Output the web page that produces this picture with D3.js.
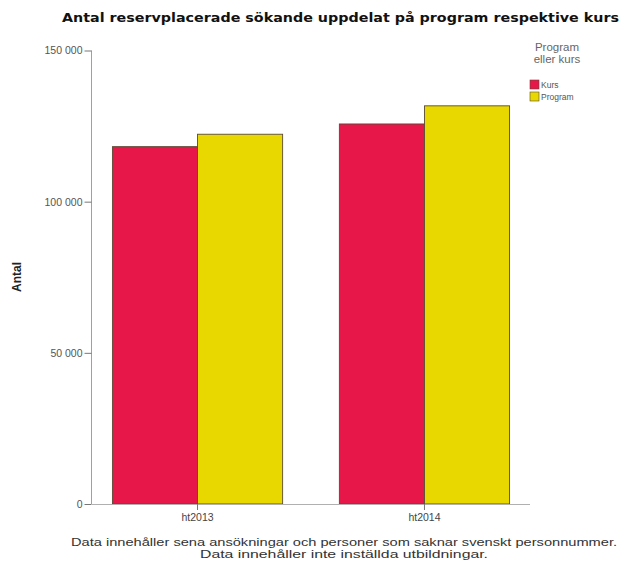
<!DOCTYPE html>
<html><head><meta charset="utf-8">
<script src="https://cdn.jsdelivr.net/npm/d3@7"></script>
<style>body{margin:0;background:#fff;} svg{display:block;}</style>
</head><body>
<svg id="c" width="626" height="565"></svg>
<script>
const categories = ["ht2013", "ht2014"];
const seriesNames = ["Kurs", "Program"];
const kursValues = [118200, 125700];
const programValues = [122300, 131700];
const yTicks = [0, 50000, 100000, 150000];
const colors = ["#e8174a", "#e8d800"];

const svg = d3.select("#c");
const x0 = d3.scaleBand().domain(categories).range([92, 530]).paddingInner(0.25).paddingOuter(0.09);
const x1 = d3.scaleBand().domain(seriesNames).range([0, x0.bandwidth()]);
const y = d3.scaleLinear().domain([0, 150000]).range([504, 50.5]);
const fmt = v => d3.format(",")(v).replace(/,/g, " ");

svg.append("text").attr("x", 62).attr("y", 22)
  .attr("font-family", "DejaVu Sans").attr("font-weight", "bold").attr("font-size", 13)
  .attr("textLength", 557).attr("lengthAdjust", "spacingAndGlyphs")
  .attr("fill", "#111").text("Antal reservplacerade sökande uppdelat på program respektive kurs");

const data = categories.map((c, i) => ({c, vals: [kursValues[i], programValues[i]]}));
const g = svg.append("g");
data.forEach(d => {
  d.vals.forEach((v, j) => {
    g.append("rect").attr("x", x0(d.c) + x1(seriesNames[j])).attr("y", y(v))
      .attr("width", x1.bandwidth()).attr("height", y(0) - y(v))
      .attr("fill", colors[j]).attr("stroke", "#5a4a36").attr("stroke-width", 0.9);
  });
});

const yAxis = svg.append("g").attr("transform", "translate(91.5,0)")
  .call(d3.axisLeft(y).tickValues(yTicks).tickFormat(fmt).tickSize(7).tickPadding(2));
yAxis.select(".domain").attr("stroke", "#a0a0a0").attr("d", "M0,504V50.5");
yAxis.selectAll(".tick line").attr("stroke", "#777");
yAxis.selectAll("text").attr("font-family", "Liberation Sans, Arial").attr("font-size", 10.5).attr("fill", "#555");

const xAxis = svg.append("g").attr("transform", "translate(0,504)")
  .call(d3.axisBottom(x0).tickSize(6).tickPadding(4));
xAxis.select(".domain").attr("stroke", "#b0b0b0").attr("d", "M91.5,0.5H530");
xAxis.selectAll(".tick line").attr("stroke", "#777");
xAxis.selectAll("text").attr("font-family", "Liberation Sans, Arial").attr("font-size", 10.5).attr("fill", "#444");

svg.append("text").attr("transform", "translate(21,277) rotate(-90)").attr("text-anchor", "middle")
  .attr("font-family", "Liberation Sans, Arial").attr("font-weight", "bold").attr("font-size", 12)
  .attr("fill", "#222").text("Antal");

const notes = ["Data innehåller sena ansökningar och personer som saknar svenskt personnummer.",
               "Data innehåller inte inställda utbildningar."];
const noteLens = [546, 288];
notes.forEach((t, i) => {
  svg.append("text").attr("x", 344).attr("y", 546 + i * 12).attr("text-anchor", "middle")
    .attr("font-family", "Liberation Sans, Arial").attr("font-size", 11)
    .attr("textLength", noteLens[i]).attr("lengthAdjust", "spacingAndGlyphs")
    .attr("fill", "#333").text(t);
});

const lg = svg.append("g");
["Program", "eller kurs"].forEach((t, i) => {
  lg.append("text").attr("x", 557).attr("y", 51 + i * 12).attr("text-anchor", "middle")
    .attr("font-family", "Liberation Sans, Arial").attr("font-size", 11.5).attr("fill", "#666").text(t);
});
seriesNames.forEach((s, i) => {
  lg.append("rect").attr("x", 530).attr("y", 80 + i * 12).attr("width", 9).attr("height", 9)
    .attr("fill", colors[i]).attr("stroke", "#5a4a36").attr("stroke-width", 0.6);
  lg.append("text").attr("x", 541).attr("y", 88 + i * 12)
    .attr("font-family", "Liberation Sans, Arial").attr("font-size", 8.5).attr("fill", "#555").text(s);
});
</script>
</body></html>
